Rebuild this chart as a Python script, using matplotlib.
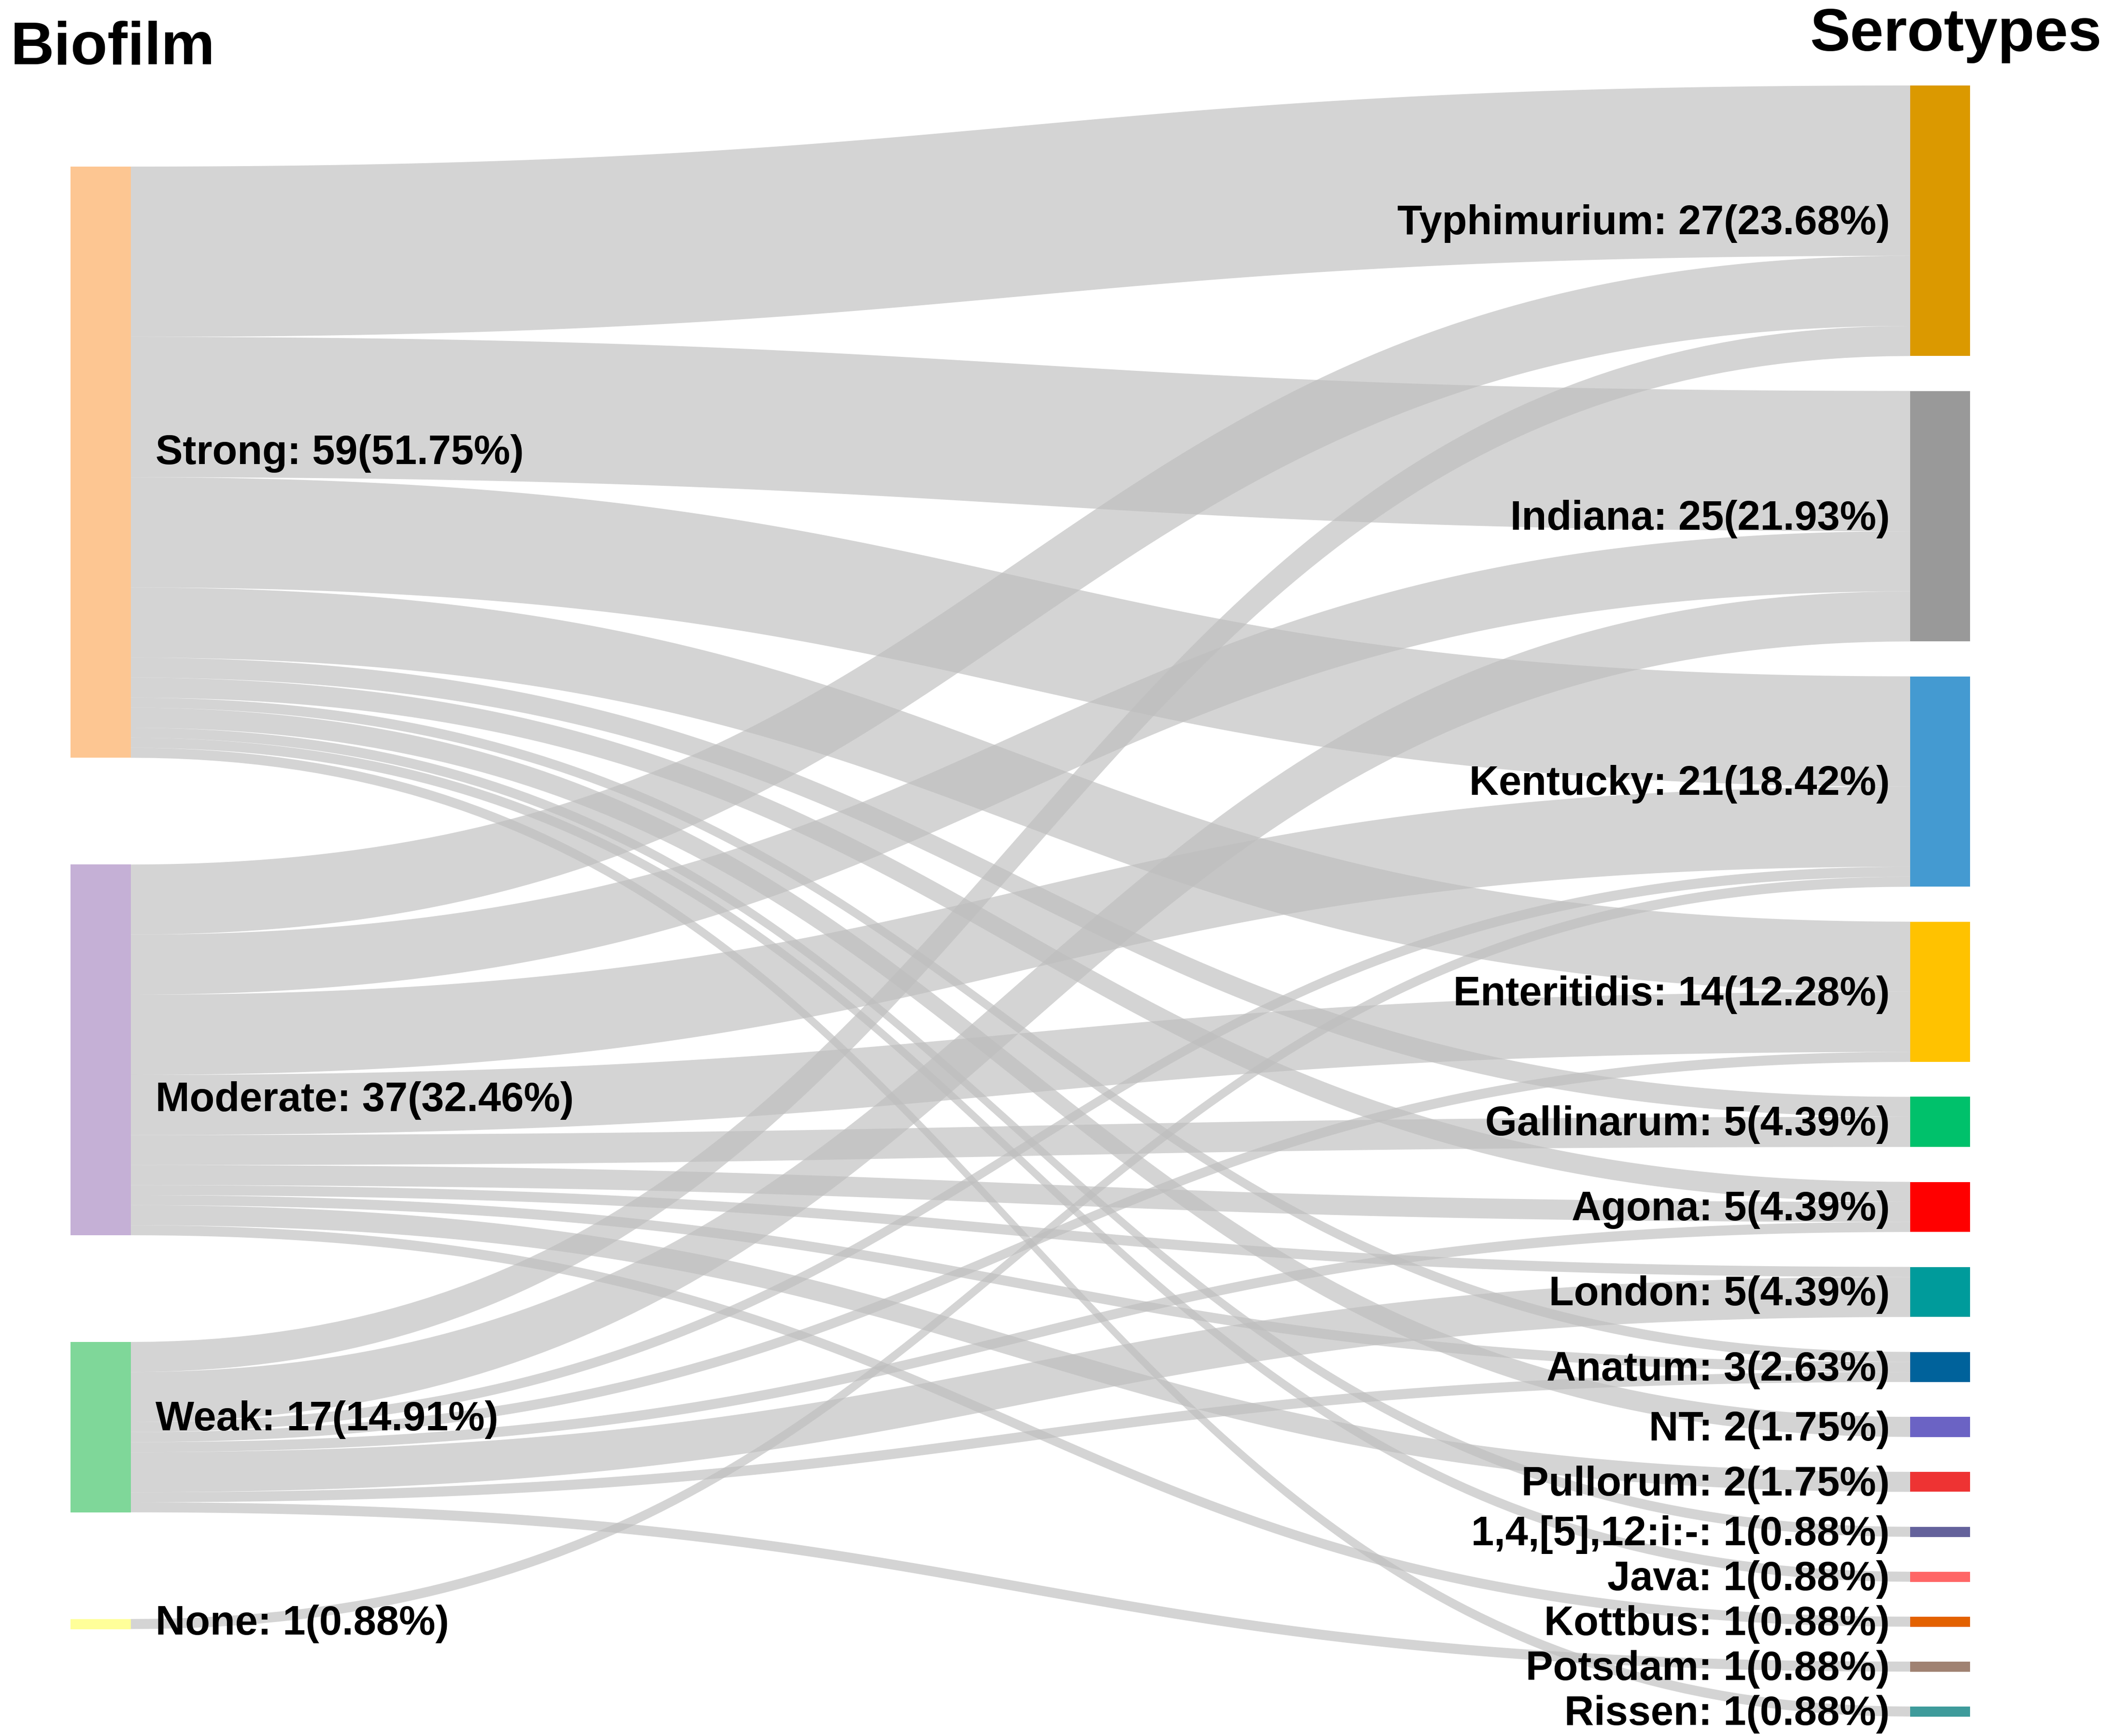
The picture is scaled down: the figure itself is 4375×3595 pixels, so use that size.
import numpy as np
import matplotlib
matplotlib.use("Agg")
import matplotlib.pyplot as plt
from matplotlib.patches import Rectangle

plt.rcParams['font.family'] = ['Liberation Sans', 'DejaVu Sans']

# data
biofilm = ['Strong', 'Moderate', 'Weak', 'None']
serotypes = ['Typhimurium', 'Indiana', 'Kentucky', 'Enteritidis', 'Gallinarum',
             'Agona', 'London', 'Anatum', 'NT', 'Pullorum', '1,4,[5],12:i:-',
             'Java', 'Kottbus', 'Potsdam', 'Rissen']
# rows: biofilm, cols: serotypes
flow_strong   = [17, 14, 11, 7, 2, 2, 0, 1, 2, 0, 1, 1, 0, 0, 1]
flow_moderate = [7, 6, 8, 6, 3, 2, 1, 1, 0, 2, 0, 0, 1, 0, 0]
flow_weak     = [3, 5, 1, 1, 0, 1, 4, 1, 0, 0, 0, 0, 0, 1, 0]
flow_none     = [0, 0, 1, 0, 0, 0, 0, 0, 0, 0, 0, 0, 0, 0, 0]

biofilm_colors = ['#FDC692', '#C5B0D6', '#7FD799', '#FFFF99']
serotype_colors = ['#DB9900', '#999999', '#449AD1', '#FFC200', '#00C16B',
                   '#FF0000', '#009B9B', '#00629B', '#6B63C4', '#EE3333',
                   '#64629B', '#FF6666', '#E36100', '#A08272', '#3E9B9B']

flows = np.array([flow_strong, flow_moderate, flow_weak, flow_none], dtype=float)
total = flows.sum()
left_tot = flows.sum(axis=1)
right_tot = flows.sum(axis=0)

# layout (pixels)
W, H = 4375, 3595
k = 20.75                 # px per sample
lx0, lx1 = 146, 271       # left node x range
rx0, rx1 = 3955, 4079     # right node x range
left_top, left_gap = 345, 221
right_top, right_gap = 177, 72.3

fig = plt.figure(figsize=(W / 100, H / 100), dpi=100)
ax = fig.add_axes([0, 0, 1, 1])
ax.set_xlim(0, W)
ax.set_ylim(H, 0)
ax.axis('off')

# node positions
ly = []
y = left_top
for v in left_tot:
    ly.append(y)
    y += v * k + left_gap
ry = []
y = right_top
for v in right_tot:
    ry.append(y)
    y += v * k + right_gap


def curve(x0, y0, x1, y1, n=120):
    t = np.linspace(0, 1, n)
    xm = (x0 + x1) / 2
    xs = (1 - t) ** 3 * x0 + 3 * (1 - t) ** 2 * t * xm + 3 * (1 - t) * t ** 2 * xm + t ** 3 * x1
    ys = y0 + (y1 - y0) * (3 * t ** 2 - 2 * t ** 3)
    return xs, ys


# where each link enters its target (stacked in source order)
tgt_start = np.zeros_like(flows)
for j in range(len(serotypes)):
    y = ry[j]
    for i in range(len(biofilm)):
        tgt_start[i, j] = y
        y += flows[i, j] * k

# links, stacked at the source in target order
for i in range(len(biofilm)):
    y = ly[i]
    for j in range(len(serotypes)):
        v = flows[i, j]
        if v == 0:
            continue
        sy0, sy1 = y, y + v * k
        ty0, ty1 = tgt_start[i, j], tgt_start[i, j] + v * k
        xt, yt = curve(lx1, sy0, rx0, ty0)
        xb, yb = curve(lx1, sy1, rx0, ty1)
        ax.fill(np.concatenate([xt, xb[::-1]]), np.concatenate([yt, yb[::-1]]),
                color='#BFBFBF', alpha=0.67, lw=0, zorder=1)
        y = sy1

# nodes
for i, name in enumerate(biofilm):
    ax.add_patch(Rectangle((lx0, ly[i]), lx1 - lx0, left_tot[i] * k,
                           color=biofilm_colors[i], lw=0, zorder=2))
for j, name in enumerate(serotypes):
    ax.add_patch(Rectangle((rx0, ry[j]), rx1 - rx0, right_tot[j] * k,
                           color=serotype_colors[j], lw=0, zorder=2))

# labels
left_dy = [-18, 105, -15, 0]
for i, name in enumerate(biofilm):
    n = int(left_tot[i])
    ax.text(322, ly[i] + left_tot[i] * k / 2 + left_dy[i],
            f"{name}: {n}({n / total * 100:.2f}%)",
            ha='left', va='center', fontsize=61, fontweight='bold', zorder=3)
for j, name in enumerate(serotypes):
    n = int(right_tot[j])
    ax.text(3913, ry[j] + right_tot[j] * k / 2 + 6,
            f"{name}: {n}({n / total * 100:.2f}%)",
            ha='right', va='center', fontsize=61, fontweight='bold', zorder=3)

ax.text(22, 101, 'Biofilm', ha='left', va='center', fontsize=90, fontweight='bold')
ax.text(4352, 73, 'Serotypes', ha='right', va='center', fontsize=90, fontweight='bold')

fig.savefig('out.png', dpi=100, facecolor='white')
